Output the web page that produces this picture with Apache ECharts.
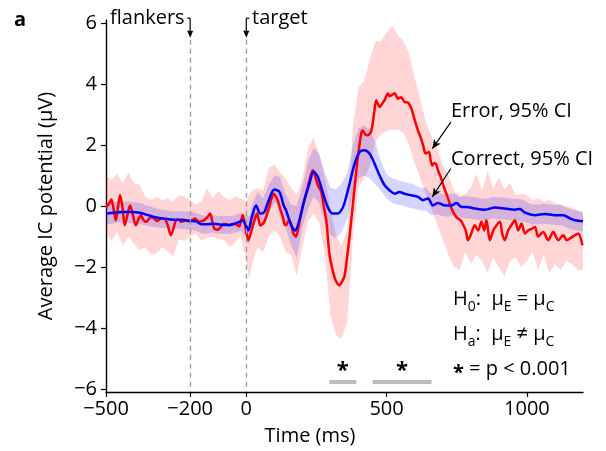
<!DOCTYPE html>
<html><head><meta charset="utf-8">
<script src="https://cdn.jsdelivr.net/npm/echarts@6/dist/echarts.min.js"></script>
<style>html,body{margin:0;padding:0;background:#fff}#c{width:606px;height:451px}</style>
</head><body><div id="c"></div>
<script>
// ---- data ----
const xTicks = [-500, -200, 0, 500, 1000];
const yTicks = [-6, -4, -2, 0, 2, 4, 6];

const errorT = [-500,-488,-481,-473,-465,-458,-450,-442,-433,-424,-414,-404,-394,-385,-376,-367,-358,-349,-340,-328,-317,-305,-293,-281,-269,-260,-251,-242,-233,-224,-215,-208,-200,-191,-183,-175,-168,-160,-152,-140,-129,-120,-114,-102,-92,-85,-79,-70,-61,-52,-43,-34,-25,-19,-13,-5,0,7,17,29,38,44,50,57,64,73,82,90,98,105,112,121,130,136,142,148,154,160,168,177,186,195,204,213,225,237,246,255,267,276,285,290,296,305,314,323,332,341,350,359,368,377,386,395,404,410,415,424,433,445,455,463,469,475,484,493,505,511,517,529,535,540,552,564,575,586,595,604,613,621,630,639,651,657,663,669,675,684,693,705,717,728,740,752,764,772,782,790,802,814,826,838,848,856,868,880,892,904,912,921,933,945,957,969,981,993,1005,1017,1029,1040,1058,1076,1094,1112,1130,1142,1156,1171,1183,1198];
const errorV = [-0.05,0.1,0.21,-0.1,-0.47,-0.1,0.35,0.0,-0.63,-0.3,0.02,-0.3,-0.63,-0.45,-0.3,-0.45,-0.52,-0.45,-0.36,-0.42,-0.49,-0.42,-0.42,-0.6,-0.96,-0.75,-0.47,-0.45,-0.52,-0.5,-0.47,-0.5,-0.5,-0.45,-0.41,-0.47,-0.52,-0.5,-0.47,-0.38,-0.25,-0.55,-0.74,-0.78,-0.7,-0.63,-0.58,-0.6,-0.63,-0.6,-0.58,-0.62,-0.67,-0.5,-0.3,-0.6,-0.85,-1.12,-0.85,-0.47,-0.25,-0.45,-0.63,-0.6,-0.52,-0.3,-0.03,0.25,0.4,0.32,0.19,-0.1,-0.36,-0.6,-0.63,-0.52,-0.47,-0.6,-0.9,-1.0,-0.7,-0.25,0.1,0.4,0.85,1.17,0.95,0.68,0.46,0.0,-0.47,-0.95,-1.56,-2.0,-2.33,-2.52,-2.6,-2.48,-2.3,-1.7,-1.0,-0.2,0.62,1.4,2.05,2.4,2.48,2.35,2.32,2.45,3.0,3.47,3.35,3.25,3.35,3.47,3.69,3.6,3.63,3.7,3.6,3.52,3.57,3.41,3.4,3.25,3.0,2.7,2.45,2.26,2.0,1.72,1.77,1.5,1.33,1.4,1.39,1.15,0.95,0.6,0.3,0.0,-0.25,-0.4,-0.47,-0.6,-0.8,-1.12,-0.9,-0.63,-0.8,-0.52,-0.8,-0.47,-1.12,-0.8,-0.63,-0.52,-0.9,-1.12,-0.8,-0.63,-0.47,-0.8,-0.57,-0.9,-0.8,-0.75,-0.69,-1.0,-0.85,-1.12,-0.85,-1.12,-0.96,-1.12,-1.05,-0.96,-0.9,-1.29];

const correctT = [-500,-470,-440,-410,-380,-350,-320,-290,-260,-230,-200,-180,-160,-140,-120,-100,-80,-60,-40,-25,-13,-5,7,20,35,50,64,82,100,118,133,142,160,174,189,207,225,240,255,272,290,308,326,344,356,368,386,404,421,439,457,475,493,511,529,546,564,588,612,630,648,665,683,707,731,749,767,785,814,850,886,921,957,975,993,1029,1064,1100,1130,1154,1171,1200];
const correctV = [-0.25,-0.22,-0.2,-0.2,-0.22,-0.3,-0.38,-0.42,-0.45,-0.45,-0.49,-0.5,-0.6,-0.6,-0.58,-0.6,-0.62,-0.62,-0.58,-0.52,-0.47,-0.55,-0.8,-0.36,0.02,-0.25,-0.2,0.24,0.54,0.46,0.02,-0.15,-0.63,-0.8,-0.47,0.19,0.73,1.12,0.95,0.46,-0.03,-0.25,-0.25,-0.05,0.3,0.73,1.39,1.77,1.83,1.72,1.39,1.0,0.68,0.51,0.4,0.46,0.4,0.35,0.3,0.19,0.25,0.02,0.1,0.02,0.02,0.1,-0.03,-0.03,-0.08,-0.12,-0.05,-0.08,-0.12,-0.1,-0.22,-0.3,-0.26,-0.3,-0.3,-0.41,-0.47,-0.5];

const bandT = [-500,-480,-460,-440,-420,-400,-380,-360,-340,-320,-300,-280,-260,-240,-220,-200,-180,-160,-140,-120,-100,-80,-60,-40,-20,0,10,20,40,60,80,100,120,140,160,180,200,220,240,260,280,300,320,340,360,380,400,420,440,460,480,500,520,540,560,580,600,620,640,660,680,700,720,740,760,780,800,820,840,860,880,900,920,940,960,980,1000,1020,1040,1060,1080,1100,1120,1140,1160,1180,1200];
const errorLo = [-0.9,-1.15,-0.85,-1.3,-1.0,-1.25,-1.45,-1.35,-1.6,-1.55,-1.35,-1.5,-1.65,-1.1,-1.15,-1.0,-0.9,-1.15,-1.05,-1.0,-1.1,-1.1,-1.35,-1.2,-1.0,-1.8,-2.4,-1.9,-1.35,-1.5,-1.0,-0.8,-1.0,-1.5,-1.6,-2.3,-1.3,-0.5,-0.25,-0.55,-1.6,-3.6,-4.25,-4.35,-3.8,-1.0,0.6,0.9,1.3,2.1,2.35,2.45,2.5,2.5,2.4,2.0,1.4,0.9,0.4,-0.1,-0.6,-1.1,-1.6,-2.0,-2.1,-1.5,-1.9,-1.6,-1.8,-2.2,-1.7,-2.0,-2.3,-1.8,-1.7,-2.0,-1.8,-1.5,-2.1,-1.6,-2.2,-1.9,-2.1,-1.8,-1.9,-2.1,-2.1];
const errorHi = [1.0,0.85,1.05,0.75,1.1,0.75,0.7,0.3,0.2,0.3,0.2,0.25,0.15,0.35,0.3,0.2,0.05,0.15,0.6,0.25,0.5,0.3,0.2,0.3,0.25,0.15,0.35,0.5,0.6,0.5,1.25,1.35,1.1,0.9,0.6,0.35,0.9,1.9,2.25,1.7,0.9,-0.1,-1.0,-1.3,-0.8,2.6,3.9,4.1,4.8,5.4,5.4,5.7,5.9,5.6,5.4,5.0,4.2,3.5,2.75,2.3,1.9,1.35,1.0,0.5,0.3,0.4,0.6,1.05,0.5,1.15,0.55,0.95,0.55,0.75,0.35,0.4,0.35,0.2,0.25,0.15,0.2,0.1,0.05,0.0,-0.05,-0.15,-0.25];
const correctLo = [-0.6,-0.58,-0.55,-0.55,-0.55,-0.57,-0.6,-0.63,-0.68,-0.7,-0.72,-0.72,-0.74,-0.74,-0.76,-0.78,-0.8,-0.9,-0.9,-0.88,-0.9,-0.92,-0.92,-0.88,-0.82,-0.95,-1.3,-0.8,-0.4,-0.65,-0.2,0.1,0.0,-0.7,-1.3,-1.7,-0.7,-0.1,0.3,0.1,-0.6,-0.95,-1.05,-0.85,-0.4,0.4,0.9,1.0,0.9,0.7,0.5,0.25,0.1,0.05,0.0,-0.05,-0.1,-0.15,-0.15,-0.3,-0.28,-0.33,-0.35,-0.3,-0.38,-0.4,-0.42,-0.45,-0.47,-0.47,-0.4,-0.43,-0.45,-0.46,-0.47,-0.5,-0.55,-0.6,-0.6,-0.58,-0.6,-0.62,-0.62,-0.7,-0.78,-0.8,-0.82];
const correctHi = [0.1,0.13,0.15,0.15,0.15,0.12,0.1,0.03,-0.02,-0.08,-0.12,-0.15,-0.17,-0.17,-0.18,-0.2,-0.22,-0.3,-0.32,-0.3,-0.32,-0.33,-0.33,-0.3,-0.22,-0.3,-0.35,0.05,0.45,0.25,0.7,1.0,0.95,0.4,0.05,0.0,0.65,1.45,1.9,1.7,1.1,0.6,0.55,0.75,1.1,2.0,2.55,2.65,2.5,2.1,1.45,1.05,0.9,0.85,0.8,0.75,0.7,0.6,0.6,0.4,0.45,0.38,0.38,0.42,0.32,0.32,0.3,0.28,0.25,0.25,0.3,0.28,0.28,0.25,0.24,0.22,0.12,0.05,0.05,0.07,0.05,0.03,0.03,-0.05,-0.12,-0.15,-0.18];

const sigStart = [296, 450];
const sigEnd = [392, 660];
const eventT = [-200, 0];
const eventNames = ['flankers', 'target'];

// ---- chart ----
const FONT = 'Open Sans';
const chart = echarts.init(document.getElementById('c'), null, {renderer: 'canvas'});
const fmt = v => String(v).replace('-', '\u2212');
const pairs = (ts, vs) => ts.map((t, i) => [t, vs[i]]);

function band(name, lo, hi, color, z) {
  return {
    type: 'custom', name, silent: true, z, clip: true,
    data: [[bandT[0], lo[0]]],
    renderItem(params, api) {
      const pts = [];
      for (let i = 0; i < bandT.length; i++) pts.push(api.coord([bandT[i], hi[i]]));
      for (let i = bandT.length - 1; i >= 0; i--) pts.push(api.coord([bandT[i], lo[i]]));
      return {type: 'polygon', shape: {points: pts}, style: {fill: color}};
    }
  };
}

const dashed = {color: '#9a9a9a', type: [5, 4], width: 1.3};
const blackArrow = {color: '#000', type: 'solid', width: 1.2};
const markData = [];
eventT.forEach(t => {
  markData.push([{coord: [t, 5.45], symbol: 'none', lineStyle: dashed}, {coord: [t, -6.1], symbol: 'none'}]);
});
markData.push([{coord: [729, 2.75], symbol: 'none', lineStyle: blackArrow}, {coord: [663, 1.88], symbol: 'arrow', symbolSize: [6, 9]}]);
markData.push([{coord: [729, 1.23], symbol: 'none', lineStyle: blackArrow}, {coord: [663, 0.3], symbol: 'arrow', symbolSize: [6, 9]}]);
sigStart.forEach((s, i) => {
  markData.push([{coord: [s, -5.75], symbol: 'none', lineStyle: {color: '#bdbdbd', width: 4, type: 'solid', cap: 'butt'}}, {coord: [sigEnd[i], -5.75], symbol: 'none'}]);
});
const starPts = sigStart.map((s, i) => ({
  coord: [(s + sigEnd[i]) / 2, -5.4], symbol: 'circle', symbolSize: 1, itemStyle: {color: 'rgba(0,0,0,0)'},
  label: {show: true, position: 'inside', formatter: '*', fontSize: 22, fontWeight: 'bold', color: '#000', fontFamily: FONT}
}));

const T = (text, x, y, extra) => ({type: 'text', x, y, silent: true, style: Object.assign({text, fill: '#000', font: '20px "' + FONT + '"', verticalAlign: 'middle', align: 'left'}, extra || {})});
const rich = {
  m: {fontSize: 20, fontFamily: FONT, lineHeight: 30, verticalAlign: 'middle', color: '#000'},
  s: {fontSize: 14, fontFamily: FONT, lineHeight: 12, verticalAlign: 'bottom', color: '#000'},
  b: {fontSize: 20, fontFamily: FONT, fontWeight: 'bold', lineHeight: 30, verticalAlign: 'middle', color: '#000', padding: [7, 0, 0, 0]}
};

const graphics = [
  T('a', 14, 20, {font: 'bold 20px "' + FONT + '"'}),
  T(eventNames[0], 110, 18),
  T(eventNames[1], 252, 18),
  T('Error, 95% CI', 451, 111),
  T('Correct, 95% CI', 451, 159.5),
  {type: 'text', x: 453, y: 299, silent: true, style: {text: '{m|H}{s|0}{m|:  \u03bc}{s|E}{m| = \u03bc}{s|C}', rich, verticalAlign: 'middle', align: 'left'}},
  {type: 'text', x: 453, y: 334.5, silent: true, style: {text: '{m|H}{s|a}{m|:  \u03bc}{s|E}{m| \u2260 \u03bc}{s|C}', rich, verticalAlign: 'middle', align: 'left'}},
  {type: 'text', x: 453, y: 369.5, silent: true, style: {text: '{b|*}{m| = p < 0.001}', rich, verticalAlign: 'middle', align: 'left'}}
];

chart.setOption({
  animation: false,
  backgroundColor: '#fff',
  grid: {left: 106, right: 23, top: 20, bottom: 59, containLabel: false},
  xAxis: {
    type: 'value', min: -500, max: 1200,
    name: 'Time (ms)', nameLocation: 'middle', nameGap: 34,
    nameTextStyle: {fontSize: 20, fontFamily: FONT, color: '#000', padding: [0, 69, 0, 0]},
    axisLine: {show: true, onZero: false, lineStyle: {color: '#000', width: 1.4}},
    axisTick: {show: true, inside: false, length: 5, customValues: xTicks, lineStyle: {color: '#000', width: 1.2}},
    axisLabel: {show: true, customValues: xTicks, formatter: fmt, fontSize: 20, fontFamily: FONT, color: '#000', margin: 7},
    splitLine: {show: false}
  },
  yAxis: {
    type: 'value', min: -6.1, max: 6.1,
    name: 'Average IC potential (\u00b5V)', nameLocation: 'middle', nameGap: 50, nameRotate: 90,
    nameTextStyle: {fontSize: 20, fontFamily: FONT, color: '#000'},
    axisLine: {show: true, onZero: false, lineStyle: {color: '#000', width: 1.4}},
    axisTick: {show: true, inside: false, length: 5, customValues: yTicks, lineStyle: {color: '#000', width: 1.2}},
    axisLabel: {show: true, customValues: yTicks, formatter: fmt, fontSize: 20, fontFamily: FONT, color: '#000', margin: 9},
    splitLine: {show: false}
  },
  series: [
    band('Error CI', errorLo, errorHi, 'rgba(255,0,0,0.165)', 1),
    band('Correct CI', correctLo, correctHi, 'rgba(0,0,255,0.165)', 2),
    {type: 'line', name: 'Error', data: pairs(errorT, errorV), symbol: 'none', smooth: 0.3, z: 3,
     lineStyle: {color: '#ff0000', width: 2.5}},
    {type: 'line', name: 'Correct', data: pairs(correctT, correctV), symbol: 'none', smooth: 0.3, z: 4,
     lineStyle: {color: '#0000ff', width: 2.5}},
    {type: 'line', name: 'annot', data: [], symbol: 'none', clip: false, z: 5, silent: true,
     markLine: {silent: true, animation: false, label: {show: false}, data: markData},
     markPoint: {silent: true, animation: false, data: starPts}}
  ],
  graphic: graphics
});

// event arrows above the plot top (outside the axis range, so drawn as graphics placed via the axes)
eventT.forEach((t, i) => {
  const top = chart.convertToPixel({xAxisIndex: 0, yAxisIndex: 0}, [t, 6.16]);
  const tip = chart.convertToPixel({xAxisIndex: 0, yAxisIndex: 0}, [t, 5.52]);
  const x = top[0];
  const dir = i === 0 ? -1 : 1;
  graphics.push({type: 'line', silent: true, shape: {x1: x, y1: top[1], x2: x, y2: tip[1] - 5}, style: {stroke: '#000', lineWidth: 1.2}});
  graphics.push({type: 'line', silent: true, shape: {x1: x, y1: top[1], x2: x + dir * 3, y2: top[1]}, style: {stroke: '#000', lineWidth: 1.2}});
  graphics.push({type: 'polygon', silent: true, shape: {points: [[x - 3, tip[1] - 7], [x + 3, tip[1] - 7], [x, tip[1]]]}, style: {fill: '#000'}});
});
chart.setOption({graphic: graphics});
</script>
</body></html>
